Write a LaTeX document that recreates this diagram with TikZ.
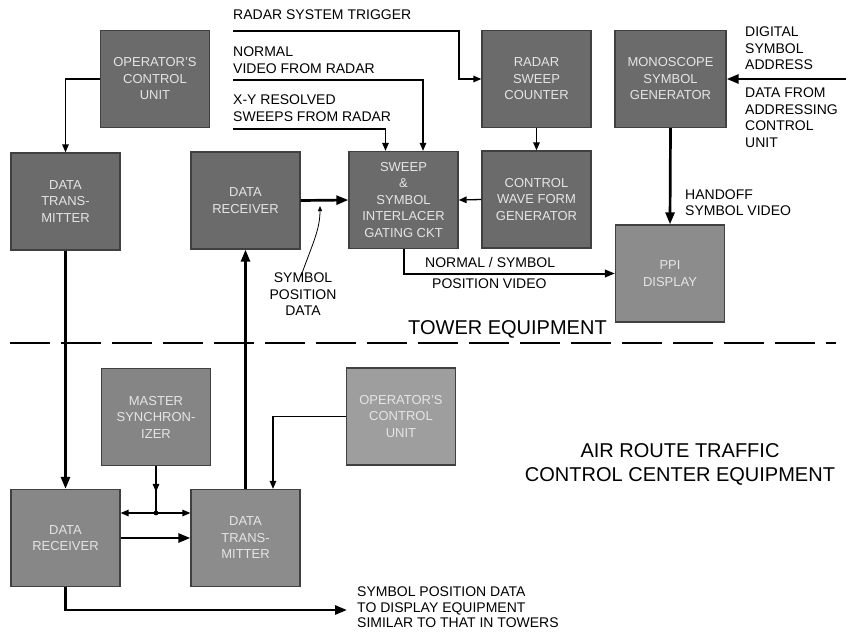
\documentclass[tikz,border=0pt]{standalone}
\usepackage{fontspec}
\setmainfont{Liberation Sans}
\usetikzlibrary{arrows.meta,calc}
\begin{document}
\begin{tikzpicture}[x=1pt,y=-1pt,
  blk/.style={draw=black!75, line width=1.3pt, fill=#1, minimum width=109pt,
    minimum height=97pt, inner sep=0pt, align=center, text=white!80!gray,
    font=\fontsize{13}{16.5}\selectfont},
  blk/.default={black!58},
  lbl/.style={font=\fontsize{14}{16.5}\selectfont, inner sep=0pt, align=left, anchor=north west},
  big/.style={font=\fontsize{20}{24}\selectfont, inner sep=0pt},
  thinw/.style={line width=1.3pt, -{Triangle[length=8pt,width=6.5pt]}},
  medw/.style={line width=2pt, -{Triangle[length=10pt,width=7.5pt]}},
  thickw/.style={line width=2.7pt, -{Triangle[length=12pt,width=9pt]}},
  dashline/.style={line width=2pt, dash pattern=on 40pt off 11pt}]
\useasboundingbox[fill=white] (0,0) rectangle (846,634);

% ---------- tower blocks ----------
\node[blk] (opA) at (155,79) {OPERATOR'S\\CONTROL\\UNIT};
\node[blk] (txA) at (65.5,201.5) {DATA\\TRANS-\\MITTER};
\node[blk] (rxA) at (245.5,200.5) {DATA\\RECEIVER};
\node[blk] (sw) at (403.5,200) {SWEEP\\\&\\SYMBOL\\INTERLACER\\GATING CKT};
\node[blk] (rsc) at (536.5,79) {RADAR\\SWEEP\\COUNTER};
\node[blk] (cwg) at (536.5,199.5) {CONTROL\\WAVE FORM\\GENERATOR};
\node[blk, minimum width=111pt] (mono) at (670.5,79) {MONOSCOPE\\SYMBOL\\GENERATOR};
\node[blk=black!45] (ppi) at (670,273.5) {PPI\\DISPLAY};

% ---------- center blocks ----------
\node[blk=black!48] (ms) at (156,417) {MASTER\\SYNCHRON-\\IZER};
\node[blk=black!38] (opB) at (401,416.5) {OPERATOR'S\\CONTROL\\UNIT};
\node[blk=black!47] (rxB) at (65.5,538) {DATA\\RECEIVER};
\node[blk=black!45] (txB) at (245.5,538) {DATA\\TRANS-\\MITTER};

% ---------- free ends ----------
\coordinate (rstS) at (233,31);
\coordinate (rstB) at (459,31);
\coordinate (nvS) at (233,80);
\coordinate (xyS) at (233,129);
\coordinate (dsIn) at (846,79);
\coordinate (spdTip) at (320,206);
\coordinate (jn) at (156,513);
\coordinate (spdOut) at (347,610);
\coordinate (dashL) at (10,343);
\coordinate (dashR) at (836,343);

% ---------- tower connectors ----------
\draw[thinw] (opA.west) -| (txA.north);
\draw[thickw] (txA.south) -- (rxB.north);
\draw[thickw] (txB.north) -- (rxA.south);
\draw[thickw] (rxA.east) -- (sw.west);
\draw[thinw] (rstS) -- (rstB) |- (rsc.west);
\draw[thinw] (nvS) -| ([xshift=19.5pt]sw.north);
\draw[thinw] (xyS) -| ([xshift=-18pt]sw.north);
\draw[thinw] (rsc.south) -- (cwg.north);
\draw[thinw] (cwg.west) -- (sw.east);
\draw[medw] (sw.south) |- (ppi.west);
\draw[thickw] (mono.south) -- (ppi.north);
\draw[thickw] (dsIn) -- (mono.east);

% ---------- tower labels ----------
\node[lbl] (lrst) at (233,10) {RADAR SYSTEM TRIGGER};
\node[lbl] (lnv) at (233,47) {NORMAL\\VIDEO FROM RADAR};
\node[lbl] (lxy) at (233,95) {X-Y RESOLVED\\SWEEPS FROM RADAR};
\node[lbl] (lds) at (745,27) {DIGITAL\\SYMBOL\\ADDRESS};
\node[lbl] (ldf) at (745,88) {DATA FROM\\ADDRESSING\\CONTROL\\UNIT};
\node[lbl, font=\fontsize{14}{15.5}\selectfont] (lho) at (685,190) {HANDOFF\\SYMBOL VIDEO};
\node[lbl] (lns) at (425,257) {NORMAL / SYMBOL};
\node[lbl] (lpv) at (432,279) {POSITION VIDEO};
\node[lbl, align=center, anchor=north] (spd) at (303,273) {SYMBOL\\POSITION\\DATA};
\draw[line width=0.8pt, -{Triangle[length=5pt,width=4pt]}]
  ([xshift=-2pt,yshift=-3pt]spd.north) .. controls (312,245) and (320,230) .. (spdTip);

% ---------- divider ----------
\draw[dashline] (dashL) -- (dashR);
\node[big, anchor=north west] (ltw) at (408,320) {TOWER EQUIPMENT};
\node[big, anchor=north, align=center] (lartc) at (680,443)
  {AIR ROUTE TRAFFIC\\CONTROL CENTER EQUIPMENT};

% ---------- center connectors ----------
\draw[line width=1.3pt] (ms.south) -- (jn);
\draw[thinw] (ms.south) -- ($(ms.south)!0.55!(jn)$);
\fill (jn) circle (2.4pt);
\draw[thinw] (jn) -- (rxB.east |- jn);
\draw[thinw] (jn) -- (txB.west |- jn);
\draw[thickw] (rxB.east) -- (txB.west);
\draw[thinw] (opB.west) -| ([xshift=27.5pt]txB.north);
\draw[thickw] (rxB.south) |- (spdOut);
\node[lbl, font=\fontsize{14}{15.5}\selectfont] (lout) at (357,587)
  {SYMBOL POSITION DATA\\TO DISPLAY EQUIPMENT\\SIMILAR TO THAT IN TOWERS};
\end{tikzpicture}
\end{document}
